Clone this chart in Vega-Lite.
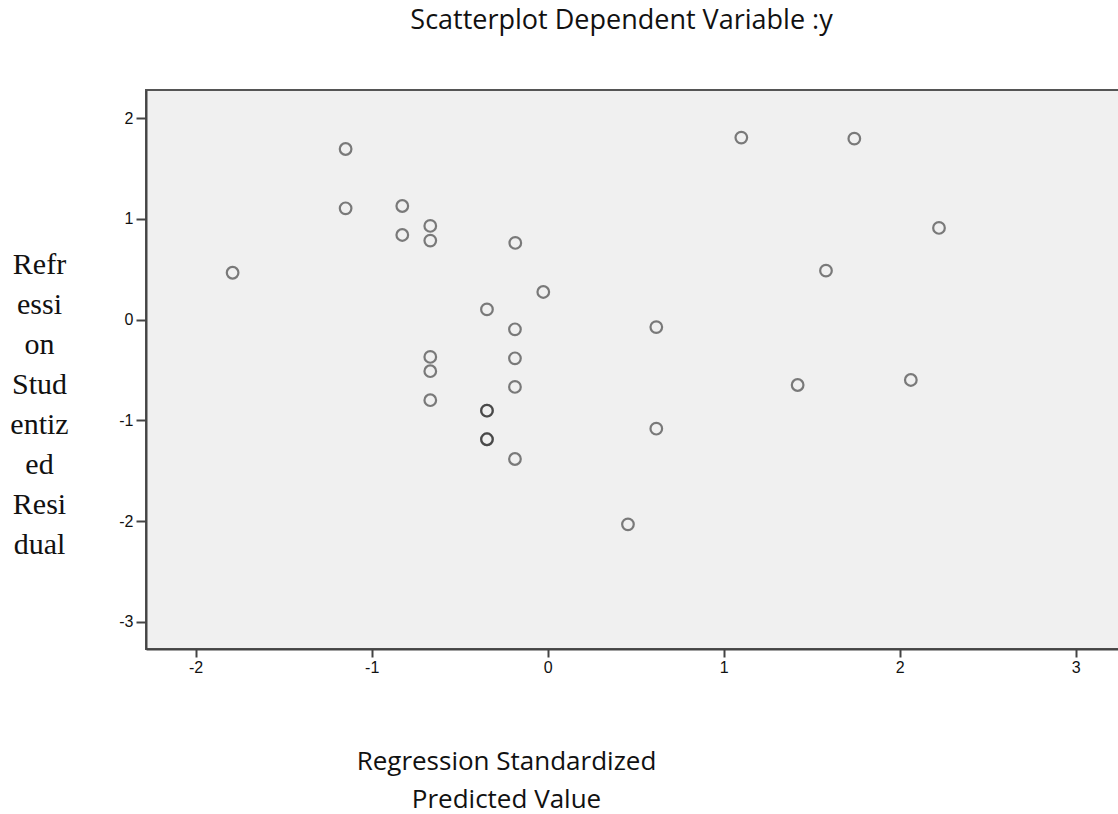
{
  "$schema": "https://vega.github.io/schema/vega-lite/v6.json",
  "autosize": "none",
  "padding": {"left": 146, "top": 90, "right": 0, "bottom": 165},
  "width": 975,
  "height": 559,
  "background": "white",
  "config": {
    "view": {"fill": "#f0f0f0", "stroke": "#555555", "strokeWidth": 2},
    "axis": {"labelFontSize": 16, "labelFont": "Liberation Sans"}
  },
  "title": {
    "text": "Scatterplot Dependent Variable :y",
    "font": "Open Sans",
    "fontSize": 27,
    "fontWeight": "normal",
    "color": "#111111",
    "anchor": "middle",
    "frame": "group",
    "baseline": "alphabetic",
    "offset": 34,
    "dx": -12
  },
  "data": {
    "values": [
      {"pred": -1.790, "resid": 0.466},
      {"pred": -1.148, "resid": 1.695},
      {"pred": -1.148, "resid": 1.106},
      {"pred": -0.826, "resid": 1.129},
      {"pred": -0.826, "resid": 0.841},
      {"pred": -0.667, "resid": 0.931},
      {"pred": -0.667, "resid": 0.785},
      {"pred": -0.184, "resid": 0.762},
      {"pred": -0.025, "resid": 0.275},
      {"pred": -0.345, "resid": 0.102},
      {"pred": -0.186, "resid": -0.096},
      {"pred": -0.667, "resid": -0.370},
      {"pred": -0.667, "resid": -0.512},
      {"pred": -0.186, "resid": -0.384},
      {"pred": -0.186, "resid": -0.668},
      {"pred": -0.667, "resid": -0.800},
      {"pred": -0.345, "resid": -0.904},
      {"pred": -0.345, "resid": -0.904},
      {"pred": -0.345, "resid": -1.188},
      {"pred": -0.345, "resid": -1.188},
      {"pred": -0.186, "resid": -1.384},
      {"pred": 0.456, "resid": -2.033},
      {"pred": 0.617, "resid": -0.074},
      {"pred": 0.617, "resid": -1.083},
      {"pred": 1.100, "resid": 1.808},
      {"pred": 1.742, "resid": 1.798},
      {"pred": 2.223, "resid": 0.911},
      {"pred": 1.581, "resid": 0.487},
      {"pred": 1.420, "resid": -0.649},
      {"pred": 2.063, "resid": -0.599}
    ]
  },
  "mark": {
    "type": "point",
    "shape": "circle",
    "filled": false,
    "size": 135,
    "stroke": "#2a2a2a",
    "strokeWidth": 2.2,
    "strokeOpacity": 0.85
  },
  "encoding": {
    "x": {
      "field": "pred",
      "type": "quantitative",
      "scale": {"domain": [-2.282, 3.257], "nice": false, "zero": false},
      "axis": {
        "values": [-2, -1, 0, 1, 2, 3],
        "labelExpr": "'' + datum.value",
        "grid": false,
        "domainColor": "#444444",
        "domainWidth": 2,
        "tickColor": "#444444",
        "tickWidth": 2,
        "tickSize": 8,
        "labelFont": "Liberation Sans",
        "labelFontSize": 16,
        "labelColor": "#111111",
        "labelPadding": 2,
        "title": ["Regression Standardized", "Predicted Value"],
        "titleFont": "Open Sans",
        "titleFontSize": 26,
        "titleFontWeight": "normal",
        "titleColor": "#111111",
        "titleAnchor": null,
        "titleAlign": "center",
        "titleBaseline": "alphabetic",
        "titleLineHeight": 38,
        "titleX": 360,
        "titleY": 120
      }
    },
    "y": {
      "field": "resid",
      "type": "quantitative",
      "scale": {"domain": [-3.271, 2.281], "nice": false, "zero": false},
      "axis": {
        "values": [-3, -2, -1, 0, 1, 2],
        "labelExpr": "'' + datum.value",
        "grid": false,
        "domainColor": "#444444",
        "domainWidth": 2,
        "tickColor": "#444444",
        "tickWidth": 2,
        "tickSize": 10,
        "labelFont": "Liberation Sans",
        "labelFontSize": 16,
        "labelColor": "#111111",
        "labelPadding": 3,
        "title": ["Refr", "essi", "on", "Stud", "entiz", "ed", "Resi", "dual"],
        "titleFont": "Liberation Serif",
        "titleFontSize": 30,
        "titleFontWeight": "normal",
        "titleColor": "#111111",
        "titleAngle": 0,
        "titleAnchor": null,
        "titleAlign": "center",
        "titleBaseline": "alphabetic",
        "titleLineHeight": 40,
        "titleX": -107,
        "titleY": 183
      }
    }
  }
}
